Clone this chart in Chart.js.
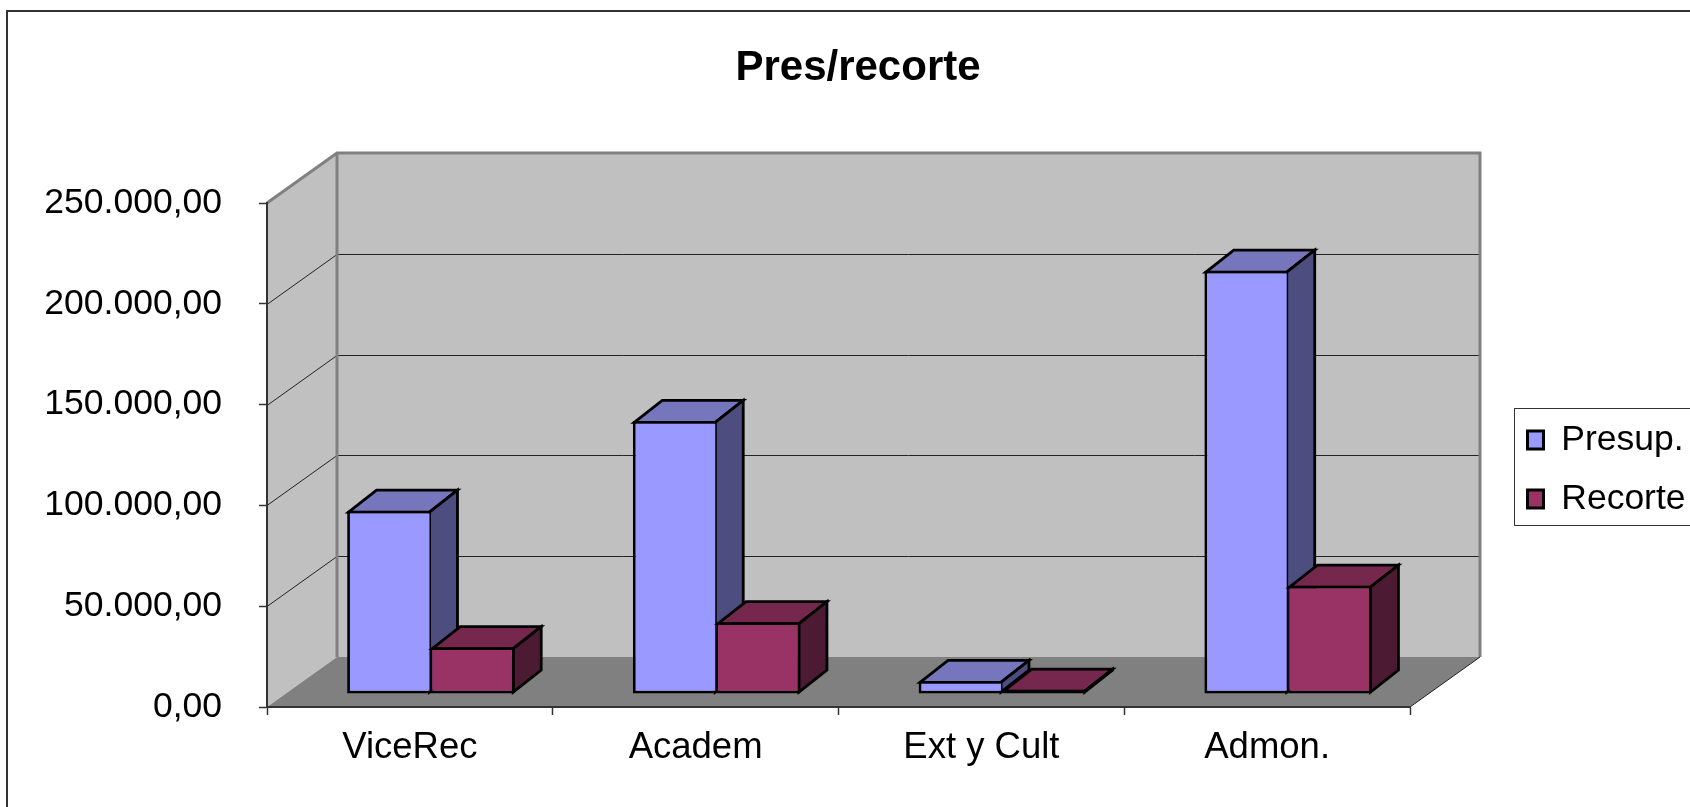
<!DOCTYPE html>
<html>
<head>
<meta charset="utf-8">
<title>Pres/recorte</title>
<script src="https://cdn.jsdelivr.net/npm/chart.js@4"></script>
<style>
  html, body { margin: 0; padding: 0; background: #fff; overflow: hidden; }
  canvas { display: block; }
</style>
</head>
<body>
<canvas id="myChart" width="1690" height="807"></canvas>
<script>
const categories = ['ViceRec', 'Academ', 'Ext y Cult', 'Admon.'];
const presup = [90900, 135400, 6450, 210000];
const recorte = [23200, 35600, 2100, 53700];
const yTickLabels = ['0,00', '50.000,00', '100.000,00', '150.000,00', '200.000,00', '250.000,00'];

// the 3D look: how far the back wall sits from the axes, and how deep a bar is
const wallDx = 70, wallDy = -50;
const barShiftX = 21, barShiftY = -13;
const barDx = 28, barDy = -22;

const fonts = 'Liberation Sans';
const faces = [
  { top: '#7676bd', side: '#4d4d80' },
  { top: '#75274d', side: '#4d1a33' }
];

function poly(c, pts, fill, stroke, lw) {
  c.beginPath();
  pts.forEach((p, i) => i ? c.lineTo(p[0], p[1]) : c.moveTo(p[0], p[1]));
  c.closePath();
  if (fill) { c.fillStyle = fill; c.fill(); }
  if (stroke) { c.strokeStyle = stroke; c.lineWidth = lw; c.stroke(); }
}

function drawWalls(chart) {
  const c = chart.ctx, a = chart.chartArea, y = chart.scales.y;
  const L = a.left, R = a.right, T = a.top, B = a.bottom;
  const dx = wallDx, dy = wallDy;
  c.save();
  // outer frame, only left and top show in the picture
  c.strokeStyle = '#333';
  c.lineWidth = 2;
  c.beginPath();
  c.moveTo(7, 807); c.lineTo(7, 11); c.lineTo(1690, 11);
  c.stroke();
  // walls and floor
  poly(c, [[L + dx, T + dy], [R + dx, T + dy], [R + dx, B + dy], [L + dx, B + dy]], '#c0c0c0');
  poly(c, [[L, T], [L + dx, T + dy], [L + dx, B + dy], [L, B]], '#c0c0c0');
  poly(c, [[L, B], [L + dx, B + dy], [R + dx, B + dy], [R, B]], '#808080');
  // gridlines follow the y scale over the side wall and the back wall
  c.strokeStyle = '#222';
  c.lineWidth = 1;
  y.ticks.forEach(t => {
    if (t.value === 0 || t.value === y.max) return;
    const py = Math.round(y.getPixelForValue(t.value)) + 0.5;
    c.beginPath();
    c.moveTo(L, py); c.lineTo(L + dx, py + dy); c.lineTo(R + dx, py + dy);
    c.stroke();
  });
  c.strokeStyle = '#808080';
  c.lineWidth = 3;
  c.beginPath();
  c.moveTo(L, T); c.lineTo(L + dx, T + dy); c.lineTo(R + dx, T + dy); c.lineTo(R + dx, B + dy);
  c.moveTo(L + dx, T + dy); c.lineTo(L + dx, B + dy);
  c.stroke();
  c.strokeStyle = '#222';
  c.lineWidth = 1;
  c.beginPath();
  c.moveTo(R, B); c.lineTo(R + dx, B + dy);
  c.stroke();
  // legend box, runs off the right edge
  c.strokeStyle = '#333';
  c.lineWidth = 1;
  c.strokeRect(1514.5, 408.5, 200, 117);
  c.restore();
}

const box3d = {
  id: 'box3d',
  afterLayout(chart) {
    chart.titleBlock.left = 0;
    chart.titleBlock.right = 1716;
    chart.legend.left = 1504;
    chart.legend.right = 1700;
    chart.legend.top = 398.75;
    chart.legend.bottom = 600;
  },
  beforeDraw(chart) {
    drawWalls(chart);
  },
  // first series first, so the red tops lie over the blue sides
  beforeDatasetsDraw(chart) {
    const c = chart.ctx;
    chart.data.datasets.forEach((ds, i) => {
      const meta = chart.getDatasetMeta(i);
      c.save();
      c.translate(barShiftX, barShiftY);
      meta.data.forEach(bar => {
        const l = bar.x - bar.width / 2 + 1.4, r = bar.x + bar.width / 2 - 1.4;
        const t = bar.y + 1.4, b = bar.base - 1.4;
        c.lineJoin = 'miter';
        poly(c, [[l, t], [l + barDx, t + barDy], [r + barDx, t + barDy], [r, t]], faces[i].top, '#000', 2.8);
        poly(c, [[r, t], [r + barDx, t + barDy], [r + barDx, b + barDy], [r, b]], faces[i].side, '#000', 2.8);
      });
      meta.controller.draw();
      c.restore();
    });
    return false;
  }
};

const ctx = document.getElementById('myChart');

const myChart = new Chart(ctx, {
  type: 'bar',
  plugins: [box3d],
  data: {
    labels: categories,
    datasets: [{
      label: 'Presup.',
      data: presup,
      backgroundColor: '#9999ff',
      borderColor: '#000',
      borderWidth: { top: 2.8, left: 2.8, bottom: 2.8, right: 1.4 },
      borderSkipped: false
    },
    {
      label: 'Recorte',
      data: recorte,
      backgroundColor: '#993366',
      borderColor: '#000',
      borderWidth: { top: 2.8, left: 1.4, bottom: 2.8, right: 2.8 },
      borderSkipped: false
    }]
  },
  options: {
    responsive: false,
    animation: false,
    barPercentage: 1,
    categoryPercentage: 0.586,
    layout: { padding: { right: 100 } },
    plugins: {
      tooltip: { enabled: false },
      title: {
        display: true,
        text: 'Pres/recorte',
        color: '#000',
        font: { family: fonts, size: 42, weight: 'bold', lineHeight: 1.2 },
        padding: { top: 43, bottom: 109.6 }
      },
      legend: {
        position: 'right',
        align: 'start',
        maxWidth: 180,
        labels: {
          color: '#000',
          font: { family: fonts, size: 35.5 },
          boxWidth: 16,
          boxHeight: 18,
          padding: 23.5,
          generateLabels(chart) {
            const items = Chart.defaults.plugins.legend.labels.generateLabels(chart);
            items.forEach(it => { it.lineWidth = 3; });
            return items;
          }
        }
      }
    },
    scales: {
      x: {
        afterFit(scale) { scale.height = 100; },
        border: { color: '#333', width: 2 },
        grid: { drawOnChartArea: false, tickLength: 8, tickColor: '#333', tickWidth: 1.5 },
        ticks: { color: '#000', font: { family: fonts, size: 36.5 }, padding: 11, maxRotation: 0 }
      },
      y: {
        min: 0,
        max: 250000,
        afterFit(scale) { scale.width = 267; },
        border: { color: '#333', width: 2 },
        grid: { drawOnChartArea: false, tickLength: 8, tickColor: '#333', tickWidth: 1.5 },
        ticks: {
          stepSize: 50000,
          color: '#000',
          font: { family: fonts, size: 35.5 },
          padding: 37,
          callback: (v, i) => yTickLabels[i]
        }
      }
    }
  }
});
</script>
</body>
</html>
